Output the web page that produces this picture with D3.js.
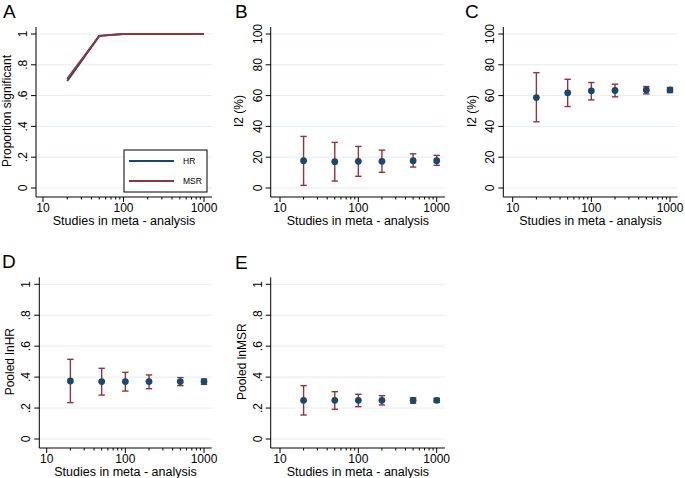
<!DOCTYPE html>
<html>
<head>
<meta charset="utf-8">
<script src="https://cdn.jsdelivr.net/npm/d3@7"></script>
<style>
  body { margin: 0; background: #fff; }
  text { font-family: "Liberation Sans", Arial, sans-serif; fill: #000; }
</style>
</head>
<body>
<svg id="chart" width="685" height="478"></svg>
<script>
// Studies per meta-analysis (x values, log axis)
const studies = [20, 50, 100, 200, 500, 1000];
const xTicks = [10, 100, 1000];

// Panel A: proportion significant
const propHR  = [0.695, 0.988, 1, 1, 1, 1];
const propMSR = [0.708, 0.988, 1, 1, 1, 1];

// Panel B: I2 (%) estimate and interval
const i2B    = [17.7, 17.1, 17.3, 17.3, 17.7, 17.7];
const i2BLo  = [1.7, 4.5, 7.6, 10.2, 13.6, 14.7];
const i2BHi  = [33.5, 29.6, 27.0, 24.6, 22.2, 21.2];

// Panel C: I2 (%)
const i2C    = [58.7, 61.8, 63.1, 63.3, 63.7, 63.7];
const i2CLo  = [43.0, 52.9, 57.2, 59.2, 61.1, 62.0];
const i2CHi  = [74.9, 70.6, 68.5, 67.4, 65.9, 65.2];

// Panel D: pooled lnHR
const lnHR   = [0.375, 0.371, 0.371, 0.371, 0.371, 0.371];
const lnHRLo = [0.235, 0.284, 0.310, 0.325, 0.345, 0.353];
const lnHRHi = [0.515, 0.457, 0.431, 0.414, 0.397, 0.388];

// Panel E: pooled lnMSR
const lnMSR   = [0.250, 0.250, 0.250, 0.250, 0.250, 0.250];
const lnMSRLo = [0.155, 0.192, 0.209, 0.220, 0.231, 0.237];
const lnMSRHi = [0.345, 0.306, 0.289, 0.280, 0.267, 0.263];

const propTicks = [0, 0.2, 0.4, 0.6, 0.8, 1];
const propLabels = ["0", ".2", ".4", ".6", ".8", "1"];
const pctTicks = [0, 20, 40, 60, 80, 100];
const pctLabels = ["0", "20", "40", "60", "80", "100"];

const navy = "#1a476f", maroon = "#90353b", grid = "#e4edf0";

const svg = d3.select("#chart");

// layout for each panel
const panels = [
  { letter: "A", lx: 3, ly: 18, ax: 36, x10: 43, x1000: 204, right: 212, ytop: 34, ybot: 188,
    yTitle: "Proportion significant", titleX: 10.5, ymax: 1, ticks: propTicks, labels: propLabels, kind: "line" },
  { letter: "B", lx: 235, ly: 18, ax: 270.7, x10: 280, x1000: 436.7, right: 445, ytop: 34, ybot: 188,
    yTitle: "I2 (%)", titleX: 243, ymax: 100, ticks: pctTicks, labels: pctLabels,
    est: i2B, lo: i2BLo, hi: i2BHi },
  { letter: "C", lx: 465, ly: 18, ax: 503.3, x10: 512.7, x1000: 670, right: 677.7, ytop: 34, ybot: 188,
    yTitle: "I2 (%)", titleX: 476, ymax: 100, ticks: pctTicks, labels: pctLabels,
    est: i2C, lo: i2CLo, hi: i2CHi },
  { letter: "D", lx: 2, ly: 268, ax: 39.3, x10: 46.7, x1000: 204, right: 211.7, ytop: 284.3, ybot: 439,
    yTitle: "Pooled lnHR", titleX: 14, ymax: 1, ticks: propTicks, labels: propLabels,
    est: lnHR, lo: lnHRLo, hi: lnHRHi },
  { letter: "E", lx: 235, ly: 269, ax: 270.7, x10: 280, x1000: 436.7, right: 445, ytop: 284.3, ybot: 439,
    yTitle: "Pooled lnMSR", titleX: 246, ymax: 1, ticks: propTicks, labels: propLabels,
    est: lnMSR, lo: lnMSRLo, hi: lnMSRHi }
];

// minor ticks 20..90, 200..900
const minorTicks = [];
[10, 100].forEach(function(d) {
  for (let k = 2; k <= 9; k++) minorTicks.push(d * k);
});

panels.forEach(function(p) {
  const g = svg.append("g");
  const x = d3.scaleLog().domain([10, 1000]).range([p.x10, p.x1000]);
  const y = d3.scaleLinear().domain([0, p.ymax]).range([p.ybot, p.ytop]);
  const axisBottom = p.ybot + 9;
  const axisTop = p.ytop - 7;

  // panel letter
  g.append("text")
    .attr("x", p.lx).attr("y", p.ly)
    .style("font-size", "19px")
    .text(p.letter);

  // gridlines
  g.selectAll(".grid")
    .data(p.ticks)
    .enter().append("line")
      .attr("x1", p.ax).attr("x2", p.right)
      .attr("y1", d => y(d)).attr("y2", d => y(d))
      .attr("stroke", grid).attr("stroke-width", 1);

  // y axis
  g.append("line")
    .attr("x1", p.ax).attr("x2", p.ax)
    .attr("y1", axisTop).attr("y2", axisBottom)
    .attr("stroke", "#000").attr("stroke-width", 1);
  g.selectAll(".ytick")
    .data(p.ticks)
    .enter().append("line")
      .attr("x1", p.ax - 5).attr("x2", p.ax)
      .attr("y1", d => y(d)).attr("y2", d => y(d))
      .attr("stroke", "#000");
  g.selectAll(".ylab")
    .data(p.ticks)
    .enter().append("text")
      .attr("transform", d => "translate(" + (p.ax - 9) + "," + y(d) + ") rotate(-90)")
      .attr("text-anchor", "middle")
      .style("font-size", "12px")
      .text((d, i) => p.labels[i]);
  g.append("text")
    .attr("transform", "translate(" + p.titleX + "," + ((p.ytop + p.ybot) / 2) + ") rotate(-90)")
    .attr("text-anchor", "middle")
    .style("font-size", "12px")
    .text(p.yTitle);

  // x axis
  g.append("line")
    .attr("x1", p.ax).attr("x2", p.right)
    .attr("y1", axisBottom).attr("y2", axisBottom)
    .attr("stroke", "#000");
  g.selectAll(".xtick")
    .data(xTicks)
    .enter().append("line")
      .attr("x1", d => x(d)).attr("x2", d => x(d))
      .attr("y1", axisBottom).attr("y2", axisBottom + 5)
      .attr("stroke", "#000");
  g.selectAll(".xminor")
    .data(minorTicks)
    .enter().append("line")
      .attr("x1", d => x(d)).attr("x2", d => x(d))
      .attr("y1", axisBottom).attr("y2", axisBottom + 2.5)
      .attr("stroke", "#000");
  g.selectAll(".xlab")
    .data(xTicks)
    .enter().append("text")
      .attr("x", d => x(d)).attr("y", axisBottom + 15)
      .attr("text-anchor", "middle")
      .style("font-size", "12px")
      .text(d => d);
  g.append("text")
    .attr("x", (p.ax + p.right) / 2).attr("y", axisBottom + 27.5)
    .attr("text-anchor", "middle")
    .style("font-size", "12.5px")
    .text("Studies in meta - analysis");

  if (p.kind === "line") {
    const line = d3.line().x(d => x(d[0])).y(d => y(d[1]));
    g.append("path")
      .datum(studies.map((s, i) => [s, propHR[i]]))
      .attr("d", line).attr("fill", "none")
      .attr("stroke", navy).attr("stroke-width", 2);
    g.append("path")
      .datum(studies.map((s, i) => [s, propMSR[i]]))
      .attr("d", line).attr("fill", "none")
      .attr("stroke", maroon).attr("stroke-width", 2);

    // legend
    const lg = g.append("g");
    lg.append("rect")
      .attr("x", 124).attr("y", 150).attr("width", 83).attr("height", 42)
      .attr("fill", "#fff").attr("stroke", "#000").attr("stroke-width", 1);
    [["HR", navy], ["MSR", maroon]].forEach(function(item, i) {
      lg.append("line")
        .attr("x1", 129).attr("x2", 174)
        .attr("y1", 161 + i * 20).attr("y2", 161 + i * 20)
        .attr("stroke", item[1]).attr("stroke-width", 2);
      lg.append("text")
        .attr("x", 183).attr("y", 164 + i * 20)
        .style("font-size", "8.5px")
        .text(item[0]);
    });
  } else {
    const pts = studies.map((s, i) => ({ s: s, est: p.est[i], lo: p.lo[i], hi: p.hi[i] }));
    const eb = g.selectAll(".eb").data(pts).enter().append("g");
    eb.append("line")
      .attr("x1", d => x(d.s)).attr("x2", d => x(d.s))
      .attr("y1", d => y(d.lo)).attr("y2", d => y(d.hi))
      .attr("stroke", maroon).attr("stroke-width", 1.4);
    eb.append("line")
      .attr("x1", d => x(d.s) - 3.2).attr("x2", d => x(d.s) + 3.2)
      .attr("y1", d => y(d.lo)).attr("y2", d => y(d.lo))
      .attr("stroke", maroon).attr("stroke-width", 1.4);
    eb.append("line")
      .attr("x1", d => x(d.s) - 3.2).attr("x2", d => x(d.s) + 3.2)
      .attr("y1", d => y(d.hi)).attr("y2", d => y(d.hi))
      .attr("stroke", maroon).attr("stroke-width", 1.4);
    eb.append("circle")
      .attr("cx", d => x(d.s)).attr("cy", d => y(d.est))
      .attr("r", 3.4)
      .attr("fill", navy);
  }
});
</script>
</body>
</html>
